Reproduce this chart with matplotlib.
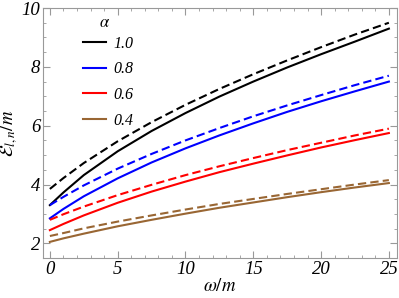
# energia vs omega para distintos alfa

import numpy as np
import matplotlib.pyplot as plt

plt.rcParams['mathtext.fontset'] = 'stix'
plt.rcParams['font.family'] = ['Liberation Serif', 'DejaVu Serif']

# datos
omega = [0, 1, 2.5, 5, 7.5, 10, 12.5, 15, 17.5, 20, 22.5, 25]
alphas = ['1.0', '0.8', '0.6', '0.4']
colores = ['black', '#0000ff', '#ff0000', '#996633']

e_solida_10 = [3.30, 3.73, 4.32, 5.13, 5.82, 6.43, 6.99, 7.50, 7.98, 8.43, 8.86, 9.30]
e_trazos_10 = [3.85, 4.22, 4.73, 5.47, 6.12, 6.71, 7.25, 7.75, 8.22, 8.67, 9.10, 9.50]
e_solida_08 = [2.85, 3.17, 3.60, 4.21, 4.75, 5.23, 5.67, 6.08, 6.47, 6.83, 7.17, 7.50]
e_trazos_08 = [3.30, 3.58, 3.97, 4.54, 5.04, 5.50, 5.92, 6.32, 6.69, 7.04, 7.38, 7.70]
e_solida_06 = [2.45, 2.66, 2.95, 3.38, 3.76, 4.10, 4.42, 4.71, 4.99, 5.26, 5.51, 5.75]
e_trazos_06 = [2.80, 2.99, 3.25, 3.64, 3.99, 4.32, 4.62, 4.90, 5.17, 5.42, 5.67, 5.90]
e_solida_04 = [2.05, 2.17, 2.33, 2.58, 2.80, 3.01, 3.21, 3.39, 3.57, 3.74, 3.90, 4.05]
e_trazos_04 = [2.25, 2.35, 2.51, 2.74, 2.95, 3.15, 3.34, 3.51, 3.68, 3.84, 4.00, 4.15]

solidas = [e_solida_10, e_solida_08, e_solida_06, e_solida_04]
trazos = [e_trazos_10, e_trazos_08, e_trazos_06, e_trazos_04]

fig = plt.figure(figsize=(3.99, 2.98), dpi=100)
ax = fig.add_axes([0.108, 0.134, 0.887, 0.839])

for a, c, s, d in zip(alphas, colores, solidas, trazos):
    ax.plot(omega, s, color=c, lw=1.5, label=a)
    ax.plot(omega, d, color=c, lw=1.5, ls=(0, (4, 2)))

ax.set_xlim(-0.5, 25.6)
ax.set_ylim(1.5, 10)
ax.set_xticks([0, 5, 10, 15, 20, 25])
ax.set_yticks([2, 4, 6, 8, 10])
ax.set_xticks(np.arange(0, 26, 1), minor=True)
ax.set_yticks(np.arange(1.5, 10.01, 0.5), minor=True)
ax.tick_params(which='both', direction='in', top=True, right=True,
               color='#999999', labelsize=13.5)
ax.tick_params(which='major', length=5)
ax.tick_params(which='minor', length=2.5)
ax.tick_params(axis='y', pad=2)
ax.tick_params(axis='x', pad=2)
for lab in ax.get_xticklabels() + ax.get_yticklabels():
    lab.set_style('italic')
for sp in ax.spines.values():
    sp.set_color('#999999')

ax.set_xlabel(r'$\omega/m$', fontsize=13.5, labelpad=0)
ax.set_ylabel(r'$\mathcal{E}_{l,n}/m$', fontsize=13.5, labelpad=1)

# leyenda sin titulo, el alfa va aparte
leg = ax.legend(loc='upper left', frameon=False,
                bbox_to_anchor=(0.113, 0.889), borderpad=0, borderaxespad=0,
                handlelength=1.45, handletextpad=0.45,
                labelspacing=0.6, prop={'style': 'italic', 'size': 11.5})
ax.text(0.175, 0.94, r'$\alpha$', transform=ax.transAxes, fontsize=12,
        ha='center', va='center')

fig.savefig('out.png', dpi=100)
